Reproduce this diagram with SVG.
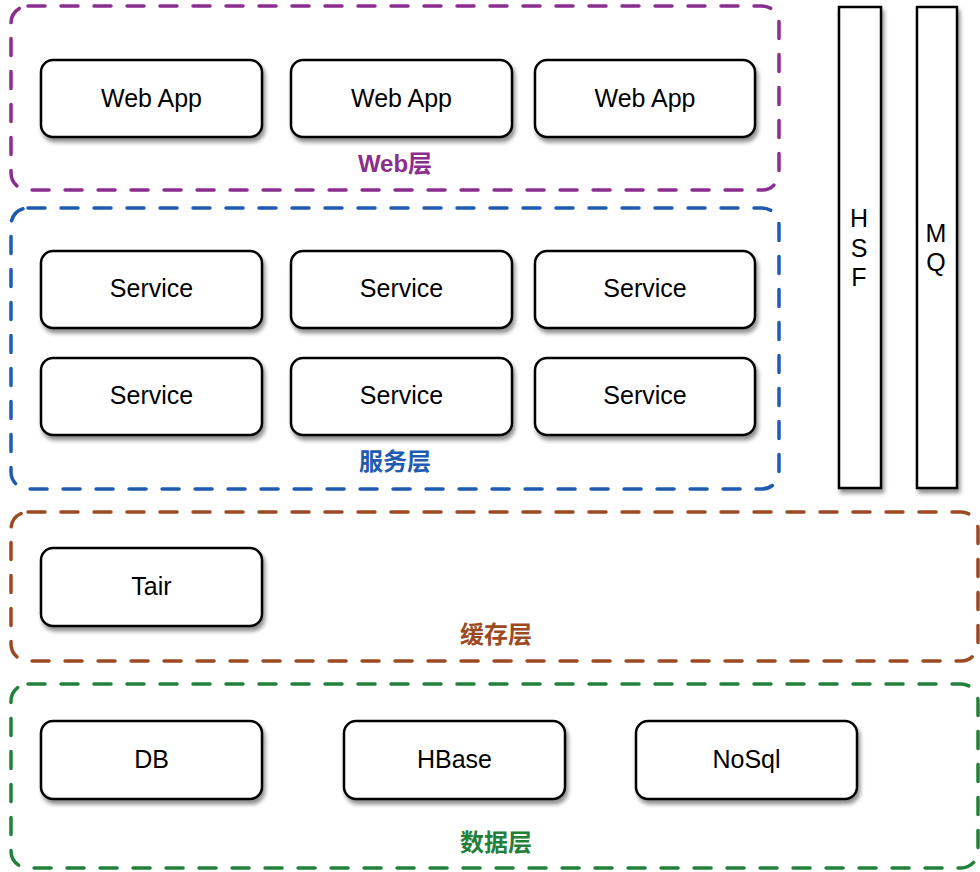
<svg xmlns="http://www.w3.org/2000/svg" width="980" height="872" viewBox="0 0 980 872">
<defs>
<filter id="sh" x="-10%" y="-10%" width="130%" height="140%">
<feGaussianBlur in="SourceAlpha" stdDeviation="2"/>
<feOffset dx="2" dy="4" result="b"/>
<feComponentTransfer><feFuncA type="linear" slope="0.45"/></feComponentTransfer>
<feMerge><feMergeNode/><feMergeNode in="SourceGraphic"/></feMerge>
</filter>
<style>
.layer{fill:none;stroke-width:3.5;stroke-dasharray:17 16;stroke-linecap:round}
.box{fill:#fff;stroke:#000;stroke-width:2.5;filter:url(#sh)}
.col{fill:#fff;stroke:#000;stroke-width:2.5;filter:url(#sh)}
.t{font-family:"Liberation Sans",Arial,sans-serif;font-size:25px;fill:#000;text-anchor:middle}
.lab{font-family:"Liberation Sans","Noto Sans CJK SC",sans-serif;font-size:24px;font-weight:bold;text-anchor:middle}
</style>
</defs>
<rect width="980" height="872" fill="#fff"/>

<g id="layer-web">
<rect class="layer" x="11" y="6" width="768" height="184" rx="17" stroke="#8B2D8E"/>
<text class="lab" x="395" y="172" fill="#8B2D8E">Web层</text>
</g>
<g id="layer-service">
<rect class="layer" x="11" y="208" width="768" height="281" rx="17" stroke="#1F5BB0"/>
<text class="lab" x="395" y="470" fill="#1F5BB0">服务层</text>
</g>
<g id="layer-cache">
<rect class="layer" x="11" y="512" width="967" height="149" rx="17" stroke="#9C4A22"/>
<text class="lab" x="496" y="643" fill="#9C4A22">缓存层</text>
</g>
<g id="layer-data">
<rect class="layer" x="11" y="684" width="967" height="184" rx="17" stroke="#23803A"/>
<text class="lab" x="496" y="851" fill="#23803A">数据层</text>
</g>

<g id="hsf">
<rect class="col" x="839" y="7" width="42" height="481"/>
<text class="t" x="859" y="227">H</text>
<text class="t" x="859" y="257">S</text>
<text class="t" x="859" y="286">F</text>
</g>
<g id="mq">
<rect class="col" x="917" y="7" width="40" height="481"/>
<text class="t" x="936" y="242">M</text>
<text class="t" x="936" y="271">Q</text>
</g>

<g id="webapp1"><rect class="box" x="41" y="60" width="221" height="77" rx="12"/><text class="t" x="151.5" y="107">Web App</text></g>
<g id="webapp2"><rect class="box" x="291" y="60" width="221" height="77" rx="12"/><text class="t" x="401.5" y="107">Web App</text></g>
<g id="webapp3"><rect class="box" x="535" y="60" width="220" height="77" rx="12"/><text class="t" x="645" y="107">Web App</text></g>

<g id="service1"><rect class="box" x="41" y="251" width="221" height="77" rx="12"/><text class="t" x="151.5" y="297">Service</text></g>
<g id="service2"><rect class="box" x="291" y="251" width="221" height="77" rx="12"/><text class="t" x="401.5" y="297">Service</text></g>
<g id="service3"><rect class="box" x="535" y="251" width="220" height="77" rx="12"/><text class="t" x="645" y="297">Service</text></g>
<g id="service4"><rect class="box" x="41" y="358" width="221" height="77" rx="12"/><text class="t" x="151.5" y="404">Service</text></g>
<g id="service5"><rect class="box" x="291" y="358" width="221" height="77" rx="12"/><text class="t" x="401.5" y="404">Service</text></g>
<g id="service6"><rect class="box" x="535" y="358" width="220" height="77" rx="12"/><text class="t" x="645" y="404">Service</text></g>

<g id="tair"><rect class="box" x="41" y="548" width="221" height="78" rx="12"/><text class="t" x="151.5" y="595">Tair</text></g>

<g id="db"><rect class="box" x="41" y="721" width="221" height="78" rx="12"/><text class="t" x="151.5" y="768">DB</text></g>
<g id="hbase"><rect class="box" x="344" y="721" width="221" height="78" rx="12"/><text class="t" x="454.5" y="768">HBase</text></g>
<g id="nosql"><rect class="box" x="636" y="721" width="221" height="78" rx="12"/><text class="t" x="746.5" y="768">NoSql</text></g>

<g id="connectors"></g>
</svg>
